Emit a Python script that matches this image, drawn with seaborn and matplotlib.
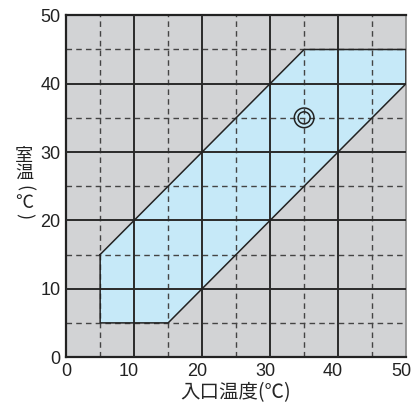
import matplotlib
matplotlib.use("Agg")
from matplotlib import pyplot as plt
from matplotlib.transforms import ScaledTranslation
import seaborn as sns
import pandas as pd

# 運転範囲（入口温度 vs 室温）
range_inlet = [5, 5, 15, 50, 50, 35]
range_room = [15, 5, 5, 40, 45, 45]
point_inlet = [35]
point_room = [35]
ticks = [0, 10, 20, 30, 40, 50]
minor = [5, 15, 25, 35, 45]

sns.set_style("white")
plt.rcParams['font.family'] = ['Liberation Sans', 'Noto Sans CJK JP', 'DejaVu Sans']

fig = plt.figure(figsize=(4.11, 4.03), dpi=100)
ax = fig.add_axes([0.161, 0.114, 0.827, 0.848])
ax.set_facecolor("#d2d3d5")

ax.fill(range_inlet, range_room, facecolor="#c6e9f8", edgecolor="none", zorder=1)

for v in minor:
    ax.axvline(v, color="#444444", lw=1.0, ls=(0, (4, 3)), zorder=2)
    ax.axhline(v, color="#444444", lw=1.0, ls=(0, (4, 3)), zorder=2)
for v in ticks[1:-1]:
    ax.axvline(v, color="#2a2a2a", lw=1.4, zorder=3)
    ax.axhline(v, color="#2a2a2a", lw=1.4, zorder=3)

ax.plot(range_inlet + range_inlet[:1], range_room + range_room[:1], color="#222222", lw=1.1, zorder=4)

pts = pd.DataFrame({"inlet": point_inlet, "room": point_room})
sns.scatterplot(data=pts, x="inlet", y="room", s=200, marker="o", facecolor="none",
                edgecolor="#222222", linewidth=1.1, ax=ax, zorder=5)
sns.scatterplot(data=pts, x="inlet", y="room", s=75, marker="o", facecolor="none",
                edgecolor="#222222", linewidth=1.1, ax=ax, zorder=5)

ax.set_xlim(0, 50)
ax.set_ylim(0, 50)
ax.set_xticks(ticks)
ax.set_yticks(ticks)
ax.tick_params(length=0, labelsize=13, colors="#222222", pad=4)
shift = ScaledTranslation(-5 / 100, 0, fig.dpi_scale_trans)
for lab in ax.get_xticklabels()[1:]:
    lab.set_transform(lab.get_transform() + shift)
ax.set_xlabel("入口温度(℃)", fontsize=14, family=['Noto Sans CJK JP'], labelpad=2)
ax.set_ylabel("")

# 縦書きの軸ラベル「室温(℃)」
cjk = ['Noto Sans CJK JP', 'DejaVu Sans']
x_lab = 24 / 411
for ch, ypx, rot in [("室", 156, 0), ("温", 173, 0), ("(", 188, -90), ("℃", 203, 0), (")", 216, -90)]:
    fig.text(x_lab, 1 - ypx / 403, ch, fontsize=13, family=cjk, rotation=rot,
             ha="center", va="center", color="#222222")

for side in ["left", "bottom", "top"]:
    ax.spines[side].set_color("#222222")
    ax.spines[side].set_linewidth(1.6)
ax.spines["right"].set_color("#888888")
ax.spines["right"].set_linewidth(1.2)

fig.savefig("out.png", dpi=100)
